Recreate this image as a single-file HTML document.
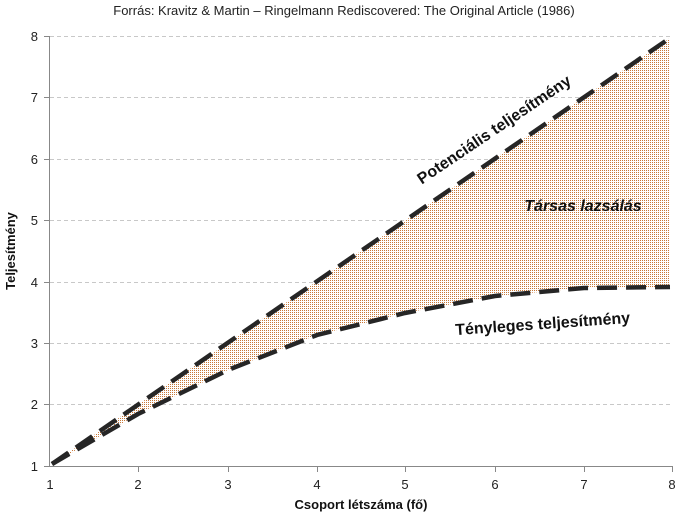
<!DOCTYPE html>
<html><head><meta charset="utf-8"><style>
body{margin:0;background:#fff;}
svg{display:block;font-family:"Liberation Sans",sans-serif;}
</style></head><body>
<svg width="689" height="517" viewBox="0 0 689 517">
<defs>
<pattern id="p" width="2" height="2" patternUnits="userSpaceOnUse">
<rect width="2" height="2" fill="#fff"/>
<rect x="0" y="0" width="1" height="1" fill="#c87838"/>
</pattern>
</defs>
<text x="344" y="15" text-anchor="middle" font-size="13" fill="#222">Forrás: Kravitz &amp; Martin – Ringelmann Rediscovered: The Original Article (1986)</text>
<g stroke="#c8c8c8" stroke-dasharray="4,3" stroke-width="1">
<line x1="50" x2="672" y1="36.5" y2="36.5"/>
<line x1="50" x2="672" y1="97.5" y2="97.5"/>
<line x1="50" x2="672" y1="159.5" y2="159.5"/>
<line x1="50" x2="672" y1="220.5" y2="220.5"/>
<line x1="50" x2="672" y1="282.5" y2="282.5"/>
<line x1="50" x2="672" y1="343.5" y2="343.5"/>
<line x1="50" x2="672" y1="404.5" y2="404.5"/>
</g>
<g stroke="#888" stroke-width="1">
<line x1="49.5" y1="36" x2="49.5" y2="466"/>
<line x1="49" y1="466.5" x2="672" y2="466.5"/>
<line x1="44" x2="50" y1="36.5" y2="36.5"/><line x1="44" x2="50" y1="97.5" y2="97.5"/>
<line x1="44" x2="50" y1="159.5" y2="159.5"/><line x1="44" x2="50" y1="220.5" y2="220.5"/>
<line x1="44" x2="50" y1="282.5" y2="282.5"/><line x1="44" x2="50" y1="343.5" y2="343.5"/>
<line x1="44" x2="50" y1="404.5" y2="404.5"/><line x1="44" x2="50" y1="466.5" y2="466.5"/>
<line x1="138.5" x2="138.5" y1="466" y2="472"/><line x1="228.5" x2="228.5" y1="466" y2="472"/>
<line x1="317.5" x2="317.5" y1="466" y2="472"/><line x1="405.5" x2="405.5" y1="466" y2="472"/>
<line x1="495.5" x2="495.5" y1="466" y2="472"/><line x1="584.5" x2="584.5" y1="466" y2="472"/>
<line x1="672.5" x2="672.5" y1="466" y2="472"/>
</g>
<g font-size="13" fill="#222" text-anchor="end">
<text x="38" y="41">8</text><text x="38" y="102">7</text><text x="38" y="164">6</text><text x="38" y="225">5</text>
<text x="38" y="287">4</text><text x="38" y="348">3</text><text x="38" y="409">2</text><text x="38" y="471">1</text>
</g>
<g font-size="13" fill="#222" text-anchor="middle">
<text x="50" y="489">1</text><text x="138" y="489">2</text><text x="228" y="489">3</text><text x="317" y="489">4</text>
<text x="405" y="489">5</text><text x="495" y="489">6</text><text x="584" y="489">7</text><text x="672" y="489">8</text>
</g>
<text x="361" y="509" text-anchor="middle" font-size="13" font-weight="bold" fill="#111">Csoport  létszáma (fő)</text>
<text transform="translate(15,251) rotate(-90)" text-anchor="middle" font-size="13" font-weight="bold" fill="#111">Teljesítmény</text>
<polygon fill="url(#p)" points="52,464 670,38 670,287 584,288 495,296 405,313 317,335 228,370 138,414"/>
<g fill="none" stroke="#262626" stroke-width="4.5" stroke-dasharray="20,9">
<polyline points="52,464 670,38"/>
<polyline points="52,464 138,414 228,370 317,335 405,313 495,296 584,288 670,287"/>
</g>
<text transform="translate(497,134) rotate(-34)" text-anchor="middle" font-size="16" font-weight="bold" fill="#111">Potenciális teljesítmény</text>
<text x="583" y="211" text-anchor="middle" font-size="16" font-weight="bold" font-style="italic" fill="#111">Társas lazsálás</text>
<text transform="translate(543,329) rotate(-4)" text-anchor="middle" font-size="16" font-weight="bold" fill="#111">Tényleges teljesítmény</text>
</svg>
</body></html>
